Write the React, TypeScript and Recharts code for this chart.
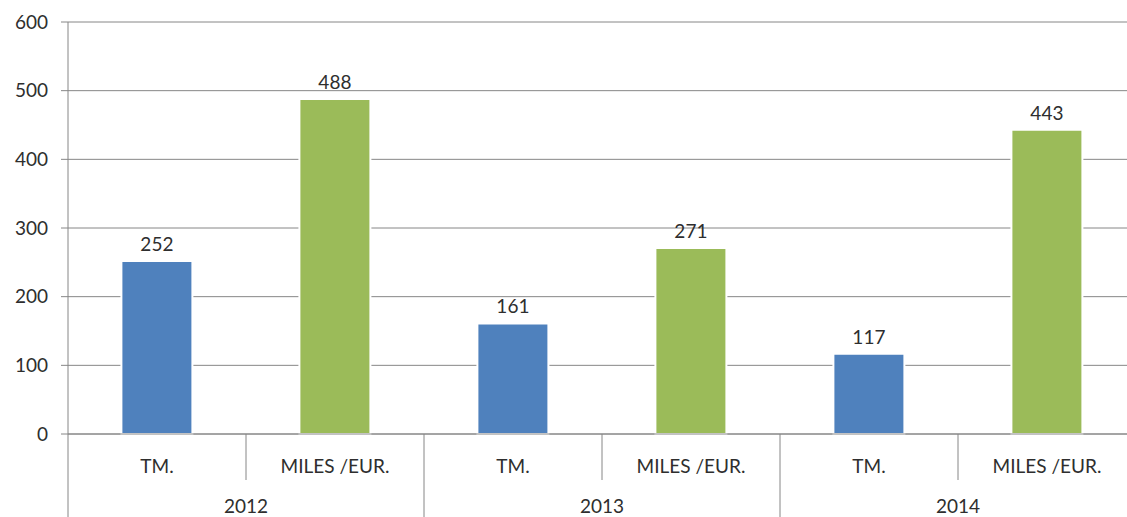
import React from "react";
import { BarChart, Bar, XAxis, YAxis, CartesianGrid, Cell, LabelList } from "recharts";

const categories = ["TM.", "MILES /EUR.", "TM.", "MILES /EUR.", "TM.", "MILES /EUR."];
const years = ["2012", "2012", "2013", "2013", "2014", "2014"];
const values = [252, 488, 161, 271, 117, 443];
const yTicks = [0, 100, 200, 300, 400, 500, 600];

const BLUE = "#4F81BD";
const GREEN = "#9BBB59";
const GRID = "#868686";
const TEXT = "#2e2e2e";
const FONT = "Lato, 'Open Sans', sans-serif";

const CHART_W = 1140;
const CHART_H = 517;
const Y_W = 68;
const MARGIN = { top: 22, right: 4, bottom: 0, left: 0 };
const X_H = 83;

const data = categories.map((c, i) => ({
  key: `${years[i]}-${i}`,
  category: c,
  year: years[i],
  value: values[i],
}));

function TwoLevelTick(props: any) {
  const { x, y, index } = props;
  const slot =
    typeof props.width === "number" && props.visibleTicksCount
      ? props.width / props.visibleTicksCount
      : (CHART_W - MARGIN.left - MARGIN.right - Y_W) / data.length;
  const right = x + slot / 2;
  const left = x - slot / 2;
  const yearEnd = index < data.length - 1 ? years[index + 1] !== years[index] : true;
  return (
    <g>
      {index === 0 && <line x1={left} x2={left} y1={y} y2={y + X_H} stroke={GRID} strokeWidth={1} />}
      <line
        x1={right}
        x2={right}
        y1={y}
        y2={yearEnd ? y + X_H : y + 46}
        stroke={GRID}
        strokeWidth={1}
      />
      <text x={x} y={y + 31} textAnchor="middle" dominantBaseline="central" fill={TEXT} fontSize={19} fontFamily={FONT}>
        {categories[index]}
      </text>
      {index % 2 === 1 && (
        <text x={left} y={y + 71} textAnchor="middle" dominantBaseline="central" fill={TEXT} fontSize={19} fontFamily={FONT}>
          {years[index]}
        </text>
      )}
    </g>
  );
}

export default function App() {
  return (
    <div
      style={{
        position: "absolute",
        left: 0,
        top: 0,
        width: 1127,
        height: 517,
        overflow: "hidden",
        background: "#fff",
      }}
    >
      <BarChart width={CHART_W} height={CHART_H} data={data} margin={MARGIN} barCategoryGap="30%">
        <CartesianGrid horizontal vertical={false} stroke={GRID} strokeWidth={1} />
        <YAxis
          width={Y_W}
          domain={[0, 600]}
          ticks={yTicks}
          interval={0}
          axisLine={{ stroke: GRID }}
          tickLine={{ stroke: GRID }}
          tickSize={7}
          tickMargin={13}
          tick={{ fill: TEXT, fontSize: 19, fontFamily: FONT }}
        />
        <XAxis
          dataKey="key"
          height={X_H}
          interval={0}
          axisLine={{ stroke: GRID }}
          tickLine={false}
          tickSize={0}
          tickMargin={0}
          tick={<TwoLevelTick />}
        />
        <Bar dataKey="value" isAnimationActive={false} stroke="#fff" strokeWidth={2}>
          {data.map((d, i) => (
            <Cell key={d.key} fill={i % 2 === 0 ? BLUE : GREEN} />
          ))}
          <LabelList dataKey="value" position="top" offset={10} fill={TEXT} fontSize={19} fontFamily={FONT} />
        </Bar>
      </BarChart>
    </div>
  );
}
